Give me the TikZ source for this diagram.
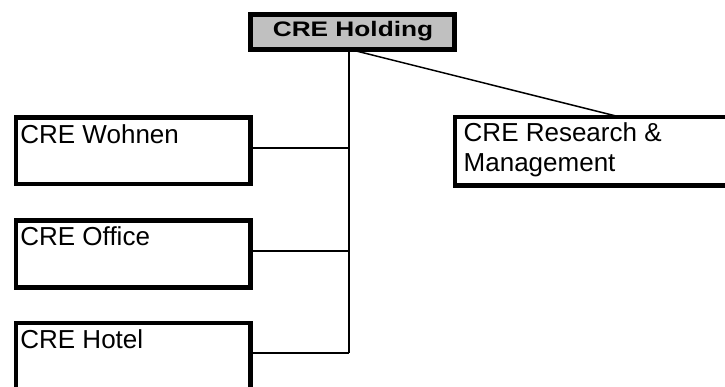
\documentclass[tikz,border=0pt]{standalone}
\usepackage{fontspec}
\setmainfont{Liberation Sans}
\definecolor{boxgray}{HTML}{C0C0C0}
\begin{document}
\begin{tikzpicture}[x=1pt,y=-1pt,
  unitbox/.style={draw=black, line width=4.3pt, rectangle, inner sep=0pt, outer sep=0pt, fill=white},
  headbox/.style={draw=black, line width=5pt, rectangle, inner sep=0pt, outer sep=0pt, fill=boxgray},
  lbl/.style={anchor=base west, inner sep=0pt, outer sep=0pt, font=\fontsize{26}{30}\selectfont, align=left},
  conn/.style={draw=black, line width=1.5pt}]
\useasboundingbox (0,0) rectangle (725,387);
\clip (0,0) rectangle (725,387);
\fill[white] (0,0) rectangle (725,387);
% boxes
\node[headbox, minimum width=203.5pt, minimum height=35pt] (hold) at (352.45,31.7) {};
\node[unitbox, minimum width=234.5pt, minimum height=66.5pt] (wohnen) at (133.25,150.75) {};
\node[unitbox, minimum width=234.5pt, minimum height=67pt] (office) at (133.25,254) {};
\node[unitbox, minimum width=234.5pt, minimum height=80pt] (hotel) at (133.25,363) {};
\node[unitbox, minimum width=285.3pt, minimum height=68.5pt] (rm) at (597.35,151.25) {};
% texts
\node[anchor=base, inner sep=0pt] (tHold) at (353,36.7) {\fontsize{21}{25}\selectfont\bfseries\scalebox{1.25}[1]{CRE Holding}};
\node[lbl] (tWohnen) at (20.4,143.3) {CRE Wohnen};
\node[lbl] (tOffice) at (20.4,246) {CRE Office};
\node[lbl] (tHotel) at (20.4,348) {CRE Hotel};
\node[lbl] (tRM1) at (463.7,141.7) {CRE Research \&};
\node[lbl] (tRM2) at (463.7,171.7) {Management};
% connectors
\coordinate (jb) at (349,353);
\draw[conn] (hold.south -| jb) -- (jb);
\draw[conn] ([yshift=2.75pt]wohnen.east) -- ([yshift=2.75pt]wohnen.east -| jb);
\draw[conn] ([yshift=3pt]office.east) -- ([yshift=3pt]office.east -| jb);
\draw[conn] ([yshift=10pt]hotel.east) -- (jb);
\draw[conn] ([xshift=2.5pt,yshift=-1.5pt]hold.south) -- ([xshift=22.65pt]rm.north);
\end{tikzpicture}
\end{document}
